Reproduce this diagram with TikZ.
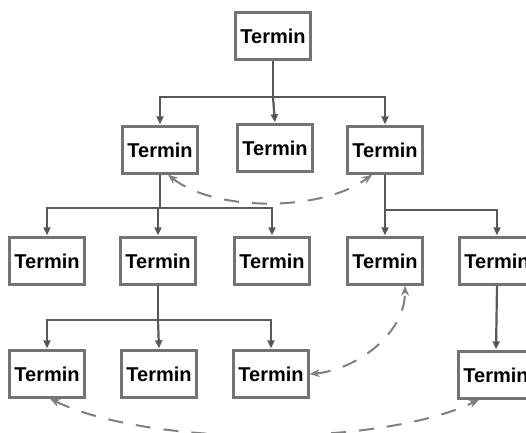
\documentclass[tikz,border=0pt]{standalone}
\usepackage{fontspec}
\setmainfont{Liberation Sans}
\usetikzlibrary{arrows.meta}
\begin{document}
\begin{tikzpicture}[x=1pt,y=-1pt,
  term/.style={rectangle, fill=white, draw=black!55, line width=2.4pt,
    minimum width=75pt, minimum height=47pt, inner sep=0pt,
    font=\fontsize{20}{22}\selectfont\bfseries},
  tree/.style={draw=black!65, line width=2.2pt},
  arr/.style={tree, -{Triangle[width=7pt,length=8pt,fill=black]}, shorten >=1pt},
  rel/.style={draw=black!50, line width=2pt, dash pattern=on 15pt off 13pt,
    {Stealth[width=8pt,length=10pt]}-{Stealth[width=8pt,length=10pt]}}]
\useasboundingbox (0,0) rectangle (526,432);
\clip (0,0) rectangle (526,432);
\fill[white] (0,0) rectangle (526,432);
% nodes
\node[term] (root) at (273,36) {Termin};
\node[term] (a1) at (160,150) {Termin};
\node[term] (a2) at (275,148) {Termin};
\node[term] (a3) at (385,150) {Termin};
\node[term] (b1) at (47,261) {Termin};
\node[term] (b2) at (158,261) {Termin};
\node[term] (b3) at (272,261) {Termin};
\node[term] (b4) at (385,261) {Termin};
\node[term] (b5) at (497,261) {Termin};
\node[term] (c1) at (47,374) {Termin};
\node[term] (c2) at (159,374) {Termin};
\node[term] (c3) at (271,374) {Termin};
\node[term] (c5) at (496,375) {Termin};
% branch points
\coordinate (j0) at (273,97);
\coordinate (j1) at (160,208);
\coordinate (j2) at (385,210);
\coordinate (j3) at (158,320);
% tree connectors
\draw[tree] (root.south) -- (j0);
\draw[arr] (j0) -| (a1.north);
\draw[arr] (j0) -- (a2.north);
\draw[arr] (j0) -| (a3.north);
\draw[tree] (a1.south) -- (j1);
\draw[arr] (j1) -| (b1.north);
\draw[arr] (j1) -| (b2.north);
\draw[arr] (j1) -| (b3.north);
\draw[tree] (a3.south) -- (j2);
\draw[arr] (j2) -- (b4.north);
\draw[arr] (j2) -| (b5.north);
\draw[tree] (b2.south) -- (j3);
\draw[arr] (j3) -| (c1.north);
\draw[arr] (j3) -- (c2.north);
\draw[arr] (j3) -| (c3.north);
\draw[arr] (b5.south) -- (c5.north);
% dashed relations
\draw[rel] ([xshift=8pt]a1.south) .. controls (215,212) and (322,212) .. ([xshift=-13pt]a3.south);
\draw[rel] (c3.east) .. controls (355,370) and (405,335) .. ([xshift=20pt]b4.south);
\draw[rel] ([xshift=3pt]c1.south) .. controls (150,447) and (380,447) .. ([xshift=-17pt]c5.south);
\end{tikzpicture}
\end{document}
